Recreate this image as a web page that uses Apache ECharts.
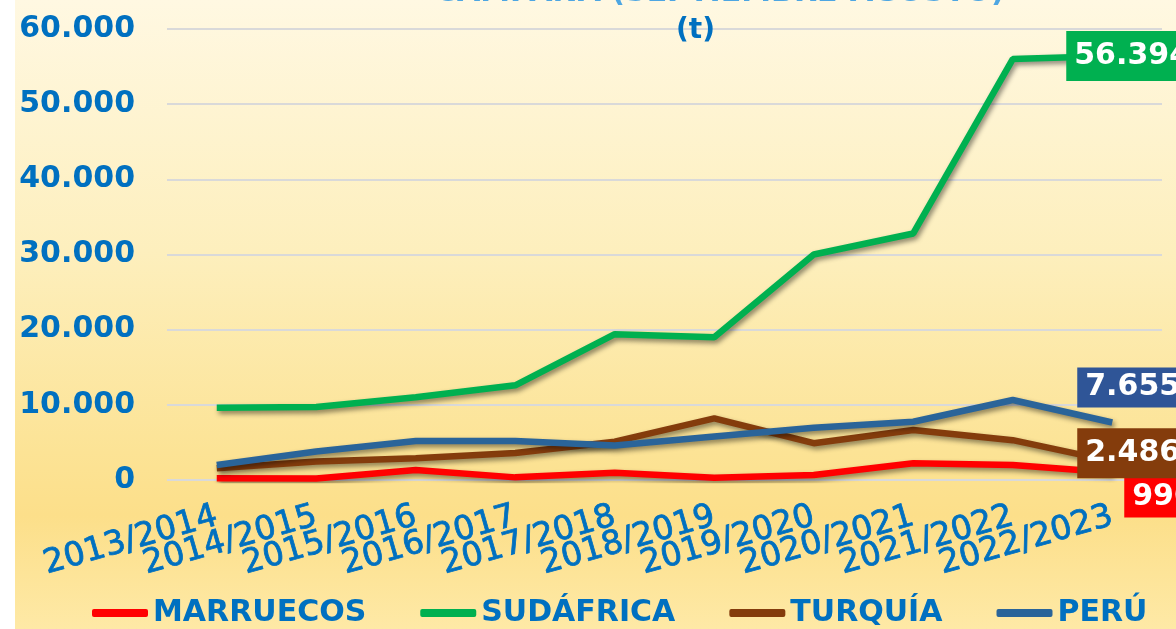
<!DOCTYPE html>
<html>
<head>
<meta charset="utf-8">
<script src="https://cdn.jsdelivr.net/npm/echarts@6.0.0/dist/echarts.min.js"></script>
<style>
  html, body { margin: 0; padding: 0; background: #ffffff; }
  #chart {
    position: absolute; left: 15px; top: 0;
    width: 1161px; height: 629px;
    background: linear-gradient(to bottom, #fff8e2 0%, #fdefbd 40%, #fce395 72%, #fcdf8a 82%, #fee9a6 100%);
  }
</style>
</head>
<body>
<div id="chart"></div>
<script>
  // campañas
  const categories = ['2013/2014', '2014/2015', '2015/2016', '2016/2017', '2017/2018',
    '2018/2019', '2019/2020', '2020/2021', '2021/2022', '2022/2023'];
  // toneladas por país
  const marruecos = [220, 200, 1330, 350, 980, 310, 660, 2220, 2000, 990];
  const sudafrica = [9600, 9700, 11000, 12600, 19400, 19000, 30000, 32800, 56000, 56394];
  const turquia = [1550, 2450, 2900, 3600, 5100, 8200, 4900, 6650, 5300, 2486];
  const peru = [2000, 3800, 5200, 5200, 4600, 5800, 6950, 7750, 10640, 7655];
  const yTicks = [0, 10000, 20000, 30000, 40000, 50000, 60000];

  const font = 'DejaVu Sans';
  const blue = '#0070C0';
  const fmt = v => String(v).replace(/\B(?=(\d{3})+(?!\d))/g, '.');

  function serie(name, data, color, boxColor, offset, pad) {
    return {
      name: name,
      type: 'line',
      data: data,
      symbol: 'none',
      color: color,
      lineStyle: {
        width: 6.5,
        color: color,
        shadowColor: 'rgba(0,0,0,0.45)',
        shadowBlur: 5,
        shadowOffsetX: 2,
        shadowOffsetY: 3
      },
      endLabel: {
        show: true,
        formatter: p => fmt(p.value),
        color: '#ffffff',
        fontFamily: font,
        fontWeight: 'bold',
        fontSize: 30,
        backgroundColor: boxColor,
        padding: pad,
        distance: 0,
        offset: offset
      }
    };
  }

  const chart = echarts.init(document.getElementById('chart'));
  chart.setOption({
    animation: false,
    title: [
      {
        text: 'CAMPAÑA (SEPTIEMBRE-AGOSTO)',
        left: 415, top: -27,
        textStyle: { color: '#4ea6e2', fontFamily: font, fontWeight: 'bold', fontSize: 30 }
      },
      {
        text: '(t)',
        left: 656, top: 12,
        textStyle: { color: blue, fontFamily: font, fontWeight: 'bold', fontSize: 28 }
      }
    ],
    legend: {
      left: 77,
      top: 598,
      padding: 0,
      itemWidth: 56,
      itemHeight: 8,
      itemGap: 54,
      icon: 'roundRect',
      textStyle: { color: blue, fontFamily: font, fontWeight: 'bold', fontSize: 30 },
      data: ['MARRUECOS', 'SUDÁFRICA', 'TURQUÍA', 'PERÚ']
    },
    grid: { left: 152, right: 14, top: 29, bottom: 149, containLabel: false, outerBoundsMode: 'none' },
    xAxis: {
      type: 'category',
      data: categories,
      boundaryGap: true,
      axisLine: { show: false },
      axisTick: { show: false },
      axisLabel: {
        interval: 0,
        rotate: 16,
        margin: 36,
        color: blue,
        fontFamily: font,
        fontSize: 33,
        textBorderColor: blue,
        textBorderWidth: 0.8
      }
    },
    yAxis: {
      type: 'value',
      min: yTicks[0],
      max: yTicks[yTicks.length - 1],
      interval: 10000,
      axisLine: { show: false },
      axisTick: { show: false },
      axisLabel: {
        margin: 32,
        color: blue,
        fontFamily: font,
        fontWeight: 'bold',
        fontSize: 30,
        formatter: v => fmt(v)
      },
      splitLine: { lineStyle: { color: '#d9d9d9', width: 2 } }
    },
    series: [
      serie('MARRUECOS', marruecos, '#ff0000', '#ff0000', [12, 25], [6, 8, 4, 8]),
      serie('SUDÁFRICA', sudafrica, '#00b050', '#00b050', [-46, 0], [11, 8, 9, 8]),
      serie('TURQUÍA', turquia, '#843c0c', '#843c0c', [-35, -8], [11, 8, 9, 8]),
      serie('PERÚ', peru, '#2a6499', '#2f5597', [-35, -35], [6, 8, 4, 8])
    ]
  });
</script>
</body>
</html>
